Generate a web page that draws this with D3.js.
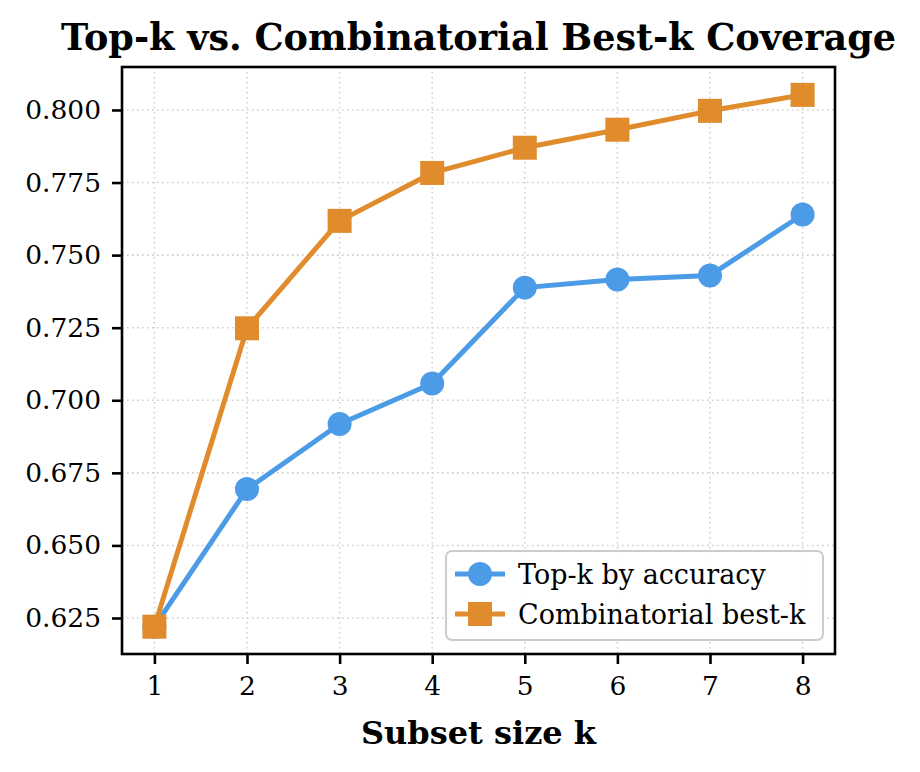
<!DOCTYPE html>
<html>
<head>
<meta charset="utf-8">
<title>Top-k vs. Combinatorial Best-k Coverage</title>
<script src="https://cdn.jsdelivr.net/npm/d3@7"></script>
<style>
  body { margin: 0; background: #fff; }
  text { font-family: "DejaVu Serif", serif; fill: #000; }
  .grid line { stroke: #cfcfcf; stroke-width: 1.6; stroke-dasharray: 1.6 3.4; }
  .axis line { stroke: #000; stroke-width: 2.6; }
  .axis text { font-size: 26.5px; }
</style>
</head>
<body>
<script>
// values
var subsetSizes = [1, 2, 3, 4, 5, 6, 7, 8];
var topK = [0.622, 0.6694, 0.6918, 0.7058, 0.7388, 0.7416, 0.7430, 0.7640];
var bestK = [0.622, 0.7248, 0.7618, 0.7783, 0.7870, 0.7932, 0.7997, 0.8052];
var yTicks = [0.625, 0.650, 0.675, 0.700, 0.725, 0.750, 0.775, 0.800];
var seriesNames = ["Top-k by accuracy", "Combinatorial best-k"];
var seriesColors = ["#4c9be6", "#e08b2c"];

var W = 920, H = 772;
var m = { left: 122, right: 85, top: 67, bottom: 118 };
var iw = W - m.left - m.right, ih = H - m.top - m.bottom;

var svg = d3.select("body").append("svg")
  .attr("width", W).attr("height", H);

var x = d3.scaleLinear().domain([0.65, 8.35]).range([0, iw]);
var y = d3.scaleLinear().domain([0.6126, 0.8148]).range([ih, 0]);

var g = svg.append("g").attr("transform", "translate(" + m.left + "," + m.top + ")");

// grid (dotted)
var grid = g.append("g").attr("class", "grid");
grid.selectAll(".gx").data(subsetSizes).enter().append("line")
  .attr("x1", d => x(d)).attr("x2", d => x(d)).attr("y1", 0).attr("y2", ih);
grid.selectAll(".gy").data(yTicks).enter().append("line")
  .attr("y1", d => y(d)).attr("y2", d => y(d)).attr("x1", 0).attr("x2", iw);

// lines + markers
var line = d3.line().x((d, i) => x(subsetSizes[i])).y(d => y(d));
[topK, bestK].forEach(function (vals, s) {
  g.append("path").datum(vals)
    .attr("fill", "none").attr("stroke", seriesColors[s])
    .attr("stroke-width", 5).attr("stroke-linejoin", "round")
    .attr("d", line);
});
g.selectAll(".dot").data(topK).enter().append("circle")
  .attr("cx", (d, i) => x(subsetSizes[i])).attr("cy", d => y(d))
  .attr("r", 12).attr("fill", seriesColors[0]);
g.selectAll(".sq").data(bestK).enter().append("rect")
  .attr("x", (d, i) => x(subsetSizes[i]) - 12).attr("y", d => y(d) - 12)
  .attr("width", 24).attr("height", 24).attr("fill", seriesColors[1]);

// axes
g.append("g").attr("class", "axis")
  .attr("transform", "translate(0," + ih + ")")
  .call(d3.axisBottom(x).tickValues(subsetSizes).tickSize(10).tickPadding(12).tickFormat(d3.format("d")));
g.append("g").attr("class", "axis")
  .call(d3.axisLeft(y).tickValues(yTicks).tickSize(10).tickPadding(11).tickFormat(d3.format(".3f")));
g.selectAll(".axis .domain").remove();
g.append("rect").attr("width", iw).attr("height", ih)
  .attr("fill", "none").attr("stroke", "#000").attr("stroke-width", 2.6);

// title and axis label
svg.append("text").attr("x", m.left + iw / 2).attr("y", 50)
  .attr("text-anchor", "middle").style("font-size", "36.6px").style("font-weight", "bold")
  .text("Top-k vs. Combinatorial Best-k Coverage");
svg.append("text").attr("x", m.left + iw / 2).attr("y", 744)
  .attr("text-anchor", "middle").style("font-size", "32px").style("font-weight", "bold")
  .text("Subset size k");

// legend
var lg = g.append("g").attr("transform", "translate(" + (446 - m.left) + "," + (551 - m.top) + ")");
lg.append("rect").attr("width", 377).attr("height", 89).attr("rx", 6)
  .attr("fill", "#fff").attr("fill-opacity", 0.85).attr("stroke", "#cccccc").attr("stroke-width", 2);
seriesNames.forEach(function (name, s) {
  var yy = 23 + s * 40;
  var row = lg.append("g").attr("transform", "translate(0," + yy + ")");
  row.append("line").attr("x1", 9).attr("x2", 59).attr("y1", 0).attr("y2", 0)
    .attr("stroke", seriesColors[s]).attr("stroke-width", 5);
  if (s === 0) row.append("circle").attr("cx", 34).attr("cy", 0).attr("r", 12).attr("fill", seriesColors[s]);
  else row.append("rect").attr("x", 22).attr("y", -12).attr("width", 24).attr("height", 24).attr("fill", seriesColors[s]);
  row.append("text").attr("x", 72).attr("y", 9.5).style("font-size", "27px").text(name);
});
</script>
</body>
</html>
